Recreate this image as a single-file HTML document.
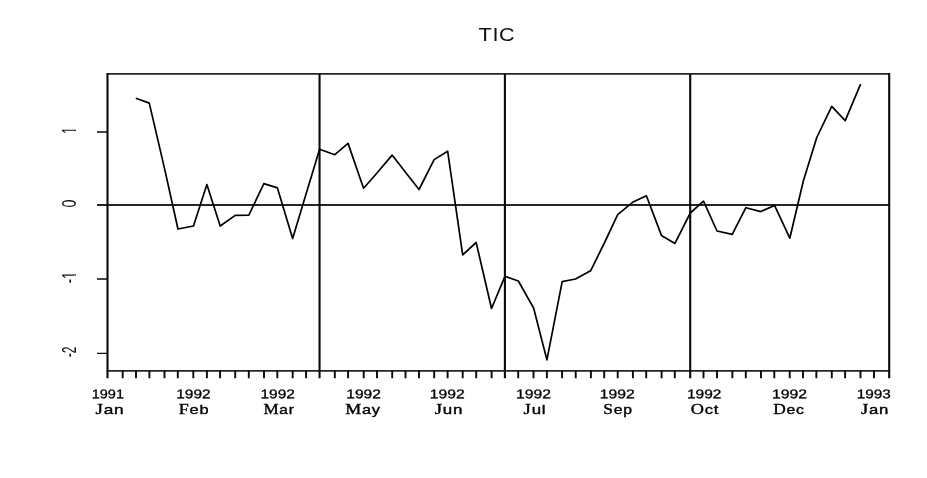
<!DOCTYPE html>
<html><head><meta charset="utf-8"><title>TIC</title>
<style>
html,body{margin:0;padding:0;background:#fff;}
body{width:927px;height:478px;overflow:hidden;position:relative;}
.mo{position:absolute;width:80px;margin-left:-40px;height:16px;text-align:center;white-space:nowrap;font:12.6px/16px "Liberation Sans",sans-serif;letter-spacing:0.6px;color:#000;-webkit-text-stroke:0.35px #000;transform-origin:50% 50%;}.mo::first-letter{font-family:"Liberation Serif",serif;font-size:13.9px;-webkit-text-stroke-width:0.45px;}
svg{display:block;}
.t{font-family:"Liberation Sans",sans-serif;fill:#111;}
.yr{font-family:"Liberation Sans",sans-serif;fill:#000;stroke:#000;stroke-width:0.3px;}

</style></head><body>
<svg width="927" height="478" viewBox="0 0 927 478">
<rect width="927" height="478" fill="#fff"/>
<defs><clipPath id="c1" clipPathUnits="userSpaceOnUse"><path d="M-12 -20H12V-1.85H1.33V1H-0.64V-1.85H-12Z"/></clipPath><clipPath id="c2" clipPathUnits="userSpaceOnUse"><path d="M-12 -20H12V-1.85H4.57V1H2.60V-1.85H-12Z"/></clipPath></defs>
<path d="M106.9 73.9H889.8M106.9 370.8H889.8" stroke="#262626" stroke-width="1.8" fill="none"/>
<path d="M97 205H889.2" stroke="#262626" stroke-width="1.8" fill="none"/>
<path d="M107.5 73.0V378.3M889.2 73.0V378.3M319.55 73.9V378.3M504.9 73.9V378.3M690.2 73.9V378.3" stroke="#0a0a0a" stroke-width="2.1" fill="none"/>
<path d="M97 132.0H107.5M97 279.0H107.5M97 353.3H107.5" stroke="#0a0a0a" stroke-width="1.3" fill="none"/>
<path d="M122.70 370.8V378.3M136.00 370.8V378.3M149.40 370.8V378.3M164.50 370.8V378.3M177.80 370.8V378.3M193.30 370.8V378.3M206.90 370.8V378.3M220.10 370.8V378.3M235.20 370.8V378.3M248.80 370.8V378.3M264.00 370.8V378.3M277.30 370.8V378.3M292.70 370.8V378.3M306.10 370.8V378.3M334.80 370.8V378.3M348.10 370.8V378.3M363.70 370.8V378.3M377.00 370.8V378.3M392.20 370.8V378.3M405.50 370.8V378.3M419.00 370.8V378.3M434.20 370.8V378.3M447.60 370.8V378.3M462.70 370.8V378.3M476.20 370.8V378.3M491.60 370.8V378.3M518.20 370.8V378.3M533.50 370.8V378.3M546.90 370.8V378.3M562.10 370.8V378.3M575.70 370.8V378.3M590.90 370.8V378.3M604.20 370.8V378.3M617.70 370.8V378.3M632.90 370.8V378.3M646.20 370.8V378.3M661.60 370.8V378.3M674.80 370.8V378.3M703.50 370.8V378.3M717.00 370.8V378.3M732.40 370.8V378.3M745.80 370.8V378.3M760.95 370.8V378.3M774.30 370.8V378.3M789.70 370.8V378.3M803.00 370.8V378.3M816.35 370.8V378.3M831.80 370.8V378.3M845.10 370.8V378.3M860.50 370.8V378.3M874.00 370.8V378.3" stroke="#0a0a0a" stroke-width="1.9" fill="none"/>
<path d="M135.8 98.2 L149.27 103.1 L164.33 167.6 L177.97 229.0 L193.47 226.0 L206.87 184.5 L220.2 226.0 L235.23 215.4 L248.83 215.2 L263.87 183.6 L277.4 187.9 L292.63 238.6 L306.13 193.8 L319.6 149.3 L334.77 154.7 L348.03 143.4 L363.57 188.2 L377.0 173.0 L392.1 155.1 L405.5 172.3 L419.03 189.5 L434.13 159.6 L447.63 151.2 L462.7 254.8 L476.17 242.5 L491.53 308.5 L504.93 276.3 L518.33 281.0 L533.53 307.8 L546.93 359.9 L562.17 281.6 L575.47 279.0 L590.6 270.8 L604.13 243.5 L617.67 214.6 L632.57 202.3 L646.4 195.8 L661.43 235.4 L674.97 243.4 L690.27 213.0 L703.53 201.2 L717.0 231.0 L732.23 234.3 L745.9 207.7 L760.77 211.6 L774.53 205.4 L789.8 238.2 L803.33 181.0 L816.77 137.5 L831.73 106.4 L845.23 120.7 L860.57 84.1" stroke="#000" stroke-width="1.7" fill="none" stroke-linejoin="round" stroke-linecap="butt"/>
<text transform="translate(496.90 40.7) scale(1.136 1)" class="t" font-size="19.1" text-anchor="middle" letter-spacing="0.5">TIC</text>
<text transform="translate(75.9 130.62) rotate(-90) scale(0.595 1)" class="t" font-size="19.5" text-anchor="middle" clip-path="url(#c1)">1</text>
<text transform="translate(75.9 203.50) rotate(-90) scale(0.735 1)" class="t" font-size="19.5" text-anchor="middle">0</text>
<text transform="translate(75.9 277.38) rotate(-90) scale(0.687 1)" class="t" font-size="19.5" text-anchor="middle" clip-path="url(#c2)">-1</text>
<text transform="translate(75.9 351.81) rotate(-90) scale(0.618 1)" class="t" font-size="19.5" text-anchor="middle">-2</text>
<text transform="translate(107.86 398.35) rotate(0.03) scale(1.151 1)" class="yr" font-size="12.6" text-anchor="middle">1991</text>
<text transform="translate(193.45 398.35) rotate(0.03) scale(1.226 1)" class="yr" font-size="12.6" text-anchor="middle">1992</text>
<text transform="translate(277.70 398.35) rotate(0.03) scale(1.230 1)" class="yr" font-size="12.6" text-anchor="middle">1992</text>
<text transform="translate(363.60 398.35) rotate(0.03) scale(1.237 1)" class="yr" font-size="12.6" text-anchor="middle">1992</text>
<text transform="translate(447.29 398.35) rotate(0.03) scale(1.245 1)" class="yr" font-size="12.6" text-anchor="middle">1992</text>
<text transform="translate(533.49 398.35) rotate(0.03) scale(1.245 1)" class="yr" font-size="12.6" text-anchor="middle">1992</text>
<text transform="translate(617.29 398.35) rotate(0.03) scale(1.245 1)" class="yr" font-size="12.6" text-anchor="middle">1992</text>
<text transform="translate(704.20 398.35) rotate(0.03) scale(1.230 1)" class="yr" font-size="12.6" text-anchor="middle">1992</text>
<text transform="translate(789.49 398.35) rotate(0.03) scale(1.252 1)" class="yr" font-size="12.6" text-anchor="middle">1992</text>
<text transform="translate(873.77 398.35) rotate(0.03) scale(1.220 1)" class="yr" font-size="12.6" text-anchor="middle">1993</text>
</svg>
<div class="mo" style="left:109.57px;top:400.62px;transform:translateY(0.6px) scaleX(1.369)">Jan</div>
<div class="mo" style="left:194.24px;top:400.62px;transform:translateY(0.6px) scaleX(1.299)">Feb</div>
<div class="mo" style="left:278.86px;top:400.62px;transform:translateY(0.6px) scaleX(1.229)">Mar</div>
<div class="mo" style="left:362.96px;top:400.62px;transform:translateY(0.6px) scaleX(1.293)">May</div>
<div class="mo" style="left:448.81px;top:400.62px;transform:translateY(0.6px) scaleX(1.343)">Jun</div>
<div class="mo" style="left:534.50px;top:400.62px;transform:translateY(0.6px) scaleX(1.338)">Jul</div>
<div class="mo" style="left:618.46px;top:400.62px;transform:translateY(0.6px) scaleX(1.251)">Sep</div>
<div class="mo" style="left:704.53px;top:400.62px;transform:translateY(0.6px) scaleX(1.314)">Oct</div>
<div class="mo" style="left:789.49px;top:400.62px;transform:translateY(0.6px) scaleX(1.252)">Dec</div>
<div class="mo" style="left:875.15px;top:400.62px;transform:translateY(0.6px) scaleX(1.328)">Jan</div>
</body></html>
